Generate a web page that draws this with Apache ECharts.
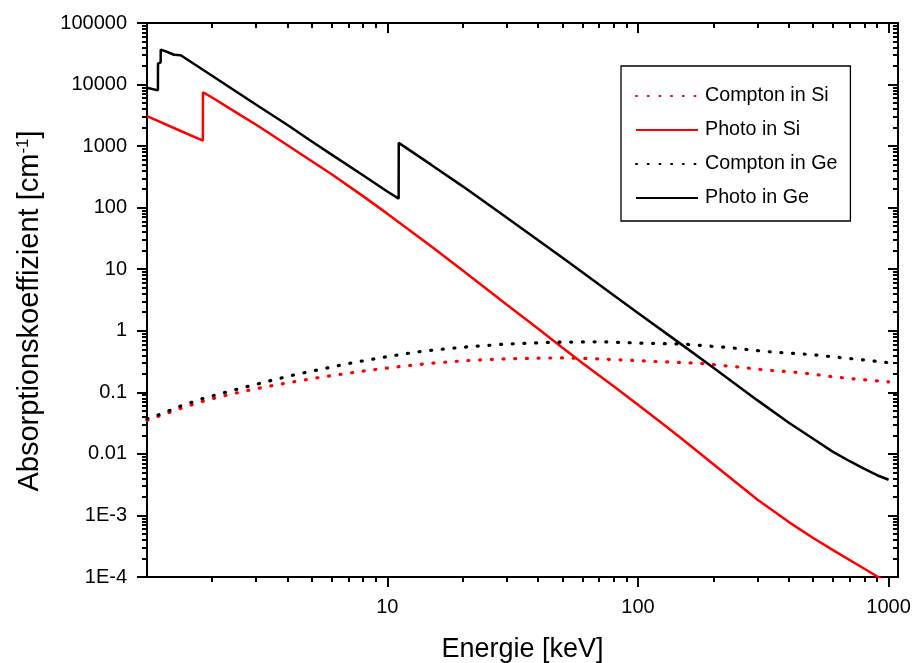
<!DOCTYPE html>
<html>
<head>
<meta charset="utf-8">
<script src="https://cdn.jsdelivr.net/npm/echarts@6/dist/echarts.min.js"></script>
<style>
html,body{margin:0;padding:0;background:#fff;}
#chart{width:915px;height:663px;}
</style>
</head>
<body>
<div id="chart"></div>
<script>
// ---- Data (energy in keV, absorption coefficient in cm^-1) ----
const comptonSiE = [1.1, 1.24, 1.54, 1.91, 2.37, 2.94, 3.64, 4.5, 5.6, 7.0, 8.6, 10.6, 13, 16, 20, 25, 30, 40, 50, 60, 73, 90, 115, 150, 176, 244, 324, 414, 500, 598, 750, 1000];
const comptonSiV = [0.035, 0.0417, 0.057, 0.075, 0.093, 0.113, 0.133, 0.155, 0.179, 0.205, 0.23, 0.255, 0.28, 0.303, 0.325, 0.34, 0.35, 0.36, 0.362, 0.357, 0.347, 0.334, 0.318, 0.305, 0.296, 0.261, 0.23, 0.214, 0.197, 0.179, 0.163, 0.148];

const photoSiE = [1.1, 1.5, 1.838, 1.839, 1.9, 2, 2.5, 3, 4, 5, 6, 8, 10, 15, 20, 30, 40, 50, 60, 70, 80, 100, 130, 150, 200, 300, 400, 500, 600, 800, 1000];
const photoSiV = [3060, 1760, 1230, 7500, 6970, 6150, 3500, 2220, 1035, 569, 350, 154, 80, 23.3, 9.5, 2.65, 1.08, 0.53, 0.30, 0.187, 0.125, 0.063, 0.0277, 0.0174, 0.0068, 0.0018, 0.00078, 0.00043, 0.000273, 0.000136, 0.000079];

const comptonGeE = [1.1, 1.22, 1.5, 1.85, 2.3, 2.85, 3.53, 4.38, 5.42, 6.72, 8.32, 10.3, 12.8, 14.3, 20, 30, 45, 72, 111, 151, 235, 324, 498, 598, 800, 1000];
const comptonGeV = [0.037, 0.0428, 0.060, 0.080, 0.102, 0.128, 0.160, 0.198, 0.236, 0.285, 0.334, 0.388, 0.446, 0.473, 0.54, 0.61, 0.65, 0.663, 0.624, 0.608, 0.53, 0.46, 0.408, 0.378, 0.335, 0.303];

const photoGeE = [1.1, 1.216, 1.217, 1.247, 1.248, 1.30, 1.41, 1.414, 1.5, 2, 3, 4, 5, 6, 8, 10, 11.1, 11.11, 15, 20, 30, 40, 50, 60, 80, 100, 150, 200, 300, 400, 500, 600, 700, 800, 900, 1000];
const photoGeV = [8900, 8050, 21900, 23000, 37000, 35000, 30500, 31500, 29900, 13900, 4700, 2200, 1190, 728, 336, 183, 140, 1130, 495, 222, 68.5, 29.5, 15.3, 8.9, 3.77, 1.95, 0.59, 0.25, 0.074, 0.032, 0.0176, 0.0108, 0.0076, 0.0057, 0.0045, 0.0038];

const seriesNames = ['Compton in Si', 'Photo in Si', 'Compton in Ge', 'Photo in Ge'];

// ---- Axis ticks / labels ----
const xMin = 1.1, xMax = 1090;
const yMin = 0.0001, yMax = 100000;
const xMajorTicks = [10, 100, 1000];
const xTickLabels = ['10', '100', '1000'];
const yMajorTicks = [0.0001, 0.001, 0.01, 0.1, 1, 10, 100, 1000, 10000, 100000];
const yTickLabels = ['1E-4', '1E-3', '0.01', '0.1', '1', '10', '100', '1000', '10000', '100000'];
const xMinorTicks = [2, 3, 4, 5, 6, 7, 8, 9, 20, 30, 40, 50, 60, 70, 80, 90, 200, 300, 400, 500, 600, 700, 800, 900];
const yMinorTicks = [];
for (let d = -4; d < 5; d++) {
  for (let k = 2; k <= 9; k++) yMinorTicks.push(+(k * Math.pow(10, d)).toPrecision(6));
}

const FONT = "'Liberation Sans', Arial, Helvetica, sans-serif";

function zip(xs, ys) { return xs.map((x, i) => [x, ys[i]]); }

function xLabel(v) {
  const i = xMajorTicks.findIndex(t => Math.abs(Math.log10(t) - Math.log10(v)) < 1e-6);
  return i >= 0 ? xTickLabels[i] : '';
}
function yLabel(v) {
  const i = yMajorTicks.findIndex(t => Math.abs(Math.log10(t) - Math.log10(v)) < 1e-6);
  return i >= 0 ? yTickLabels[i] : '';
}

const axisLineStyle = { color: '#000', width: 2 };

function xAxisDef(pos, ticks, len, inside, withLine, withLabel) {
  return {
    type: 'log', logBase: 10, min: xMin, max: xMax, position: pos, gridIndex: 0,
    axisLine: { show: withLine, onZero: false, lineStyle: axisLineStyle },
    axisTick: { show: true, customValues: ticks, length: len, inside: inside, lineStyle: { color: '#000', width: 2 } },
    axisLabel: withLabel ? {
      show: true, customValues: xMajorTicks, formatter: xLabel, margin: 20,
      color: '#000', fontSize: 20, fontFamily: FONT
    } : { show: false },
    splitLine: { show: false },
    minorTick: { show: false }
  };
}
function yAxisDef(pos, ticks, len, inside, withLine, withLabel) {
  return {
    type: 'log', logBase: 10, min: yMin, max: yMax, position: pos, gridIndex: 0,
    axisLine: { show: withLine, onZero: false, lineStyle: axisLineStyle },
    axisTick: { show: true, customValues: ticks, length: len, inside: inside, lineStyle: { color: '#000', width: 2 } },
    axisLabel: withLabel ? {
      show: true, customValues: yMajorTicks, formatter: yLabel, margin: 20,
      color: '#000', fontSize: 20, fontFamily: FONT
    } : { show: false },
    splitLine: { show: false },
    minorTick: { show: false }
  };
}

const xAxes = [
  xAxisDef('bottom', xMajorTicks, 10, false, true, true),
  xAxisDef('bottom', xMinorTicks, 5, false, false, false),
  xAxisDef('top', xMajorTicks, 10, true, true, false),
  xAxisDef('top', xMinorTicks, 5, true, false, false)
];
Object.assign(xAxes[0], {
  name: 'Energie [keV]', nameLocation: 'middle', nameGap: 59,
  nameTextStyle: { color: '#000', fontSize: 27, fontFamily: FONT }
});

const yAxes = [
  yAxisDef('left', yMajorTicks, 10, false, true, true),
  yAxisDef('left', yMinorTicks, 5, false, false, false),
  yAxisDef('right', yMajorTicks, 10, true, true, false),
  yAxisDef('right', yMinorTicks, 5, true, false, false)
];
Object.assign(yAxes[0], {
  name: 'Absorptionskoeffizient [cm{sup|-1}]', nameLocation: 'middle', nameGap: 103,
  nameTextStyle: {
    color: '#000', fontSize: 29, fontFamily: FONT, padding: [0, 22, 0, 0],
    rich: { sup: { fontSize: 17, fontFamily: FONT, color: '#000', verticalAlign: 'top' } }
  }
});

const dotted = [1, 10.7];
function lineSeries(name, data, color, dashed) {
  return {
    name: name, type: 'line', xAxisIndex: 0, yAxisIndex: 0,
    data: data, symbol: 'none', showSymbol: false, smooth: false,
    clip: true,
    itemStyle: { color: color, opacity: 0 },
    lineStyle: dashed
      ? { color: color, width: 3.2, type: dotted, cap: 'round', opacity: 1 }
      : { color: color, width: 2.5, opacity: 1 }
  };
}

const option = {
  animation: false,
  backgroundColor: '#fff',
  grid: { left: 147, right: 17, top: 23, bottom: 86, containLabel: false, outerBoundsMode: 'none' },
  xAxis: xAxes,
  yAxis: yAxes,
  legend: {
    orient: 'vertical', left: 621, top: 66,
    itemWidth: 62, itemHeight: 20, itemGap: 14,
    padding: [20, 13, 13, 14],
    borderColor: '#000', borderWidth: 1.3, borderRadius: 0,
    backgroundColor: '#fff',
    selectedMode: false,
    itemStyle: { opacity: 0 },
    textStyle: { color: '#000', fontSize: 19.7, fontFamily: FONT, padding: [0, 0, 0, 2] },
    data: seriesNames
  },
  series: [
    lineSeries(seriesNames[0], zip(comptonSiE, comptonSiV), '#ff0000', true),
    lineSeries(seriesNames[1], zip(photoSiE, photoSiV), '#ff0000', false),
    lineSeries(seriesNames[2], zip(comptonGeE, comptonGeV), '#000000', true),
    lineSeries(seriesNames[3], zip(photoGeE, photoGeV), '#000000', false)
  ]
};

const chart = echarts.init(document.getElementById('chart'), null, { renderer: 'canvas' });
chart.setOption(option);
</script>
</body>
</html>
